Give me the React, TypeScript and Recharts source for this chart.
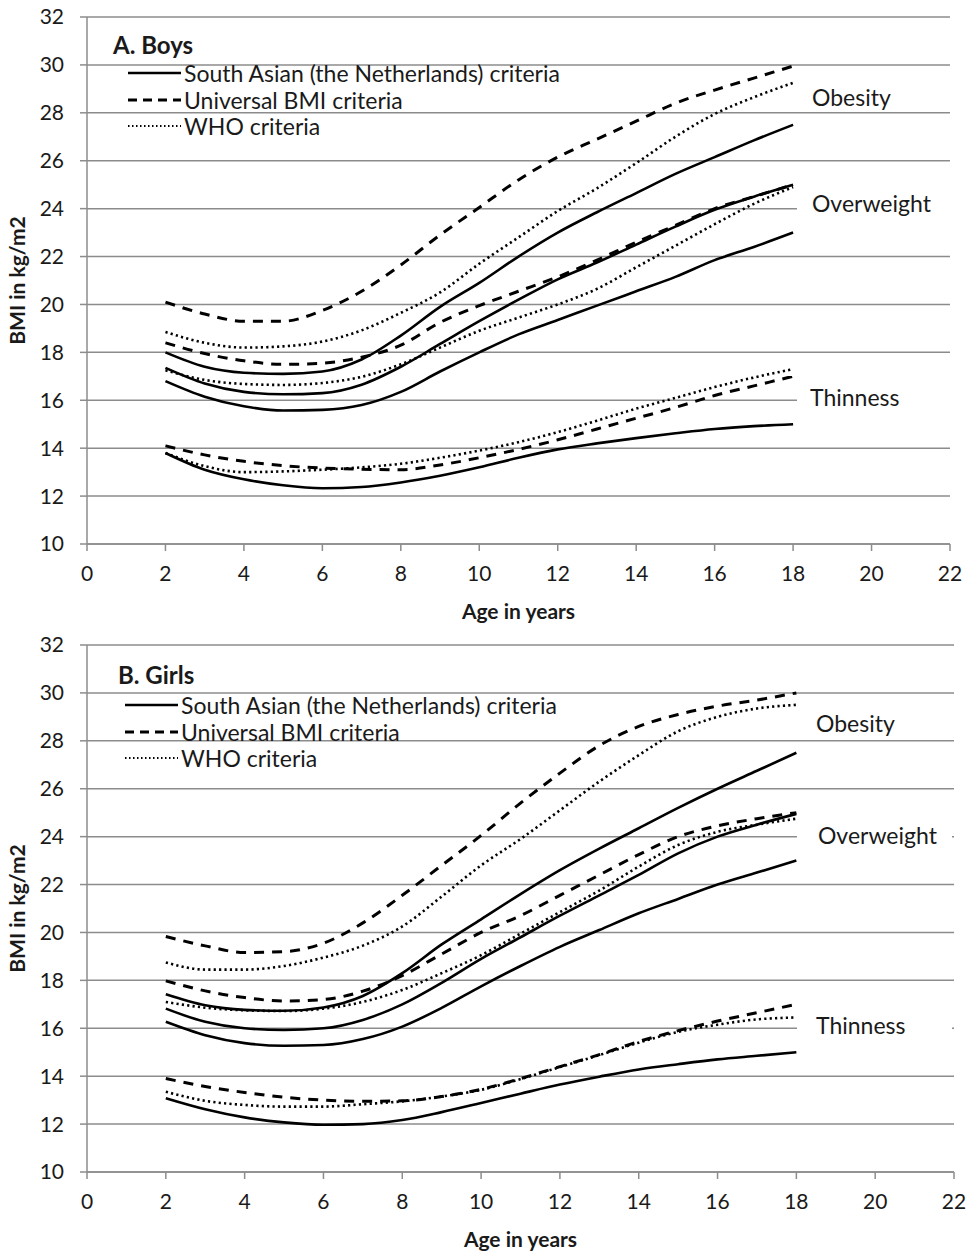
import React from 'react';
import { LineChart, Line, XAxis, YAxis, CartesianGrid, Label } from 'recharts';

const ages = [2, 3, 4, 5, 6, 7, 8, 9, 10, 11, 12, 13, 14, 15, 16, 17, 18];
const xTicks = [0, 2, 4, 6, 8, 10, 12, 14, 16, 18, 20, 22];
const yTicks = [10, 12, 14, 16, 18, 20, 22, 24, 26, 28, 30, 32];

// A. Boys
const boysSaUpper = [18.0, 17.4, 17.15, 17.1, 17.2, 17.7, 18.7, 19.9, 20.9, 22.0, 23.0, 23.85, 24.65, 25.45, 26.15, 26.85, 27.5];
const boysSaMiddle = [17.35, 16.7, 16.35, 16.25, 16.3, 16.65, 17.4, 18.35, 19.3, 20.2, 21.05, 21.75, 22.5, 23.25, 23.95, 24.5, 25.0];
const boysSaLower = [16.8, 16.15, 15.75, 15.57, 15.6, 15.8, 16.35, 17.2, 18.0, 18.75, 19.35, 19.95, 20.55, 21.15, 21.85, 22.4, 23.0];
const boysSaThin = [13.8, 13.1, 12.7, 12.45, 12.33, 12.38, 12.57, 12.85, 13.2, 13.6, 13.95, 14.2, 14.42, 14.62, 14.8, 14.92, 15.0];
const boysUniObese = [20.1, 19.6, 19.3, 19.3, 19.75, 20.55, 21.65, 22.9, 24.05, 25.2, 26.15, 26.9, 27.65, 28.4, 28.95, 29.45, 29.95];
const boysUniOver = [18.4, 17.95, 17.65, 17.5, 17.55, 17.8, 18.3, 19.25, 19.95, 20.55, 21.15, 21.85, 22.6, 23.3, 24.0, 24.5, 25.0];
const boysUniThin = [14.1, 13.72, 13.45, 13.27, 13.17, 13.12, 13.1, 13.3, 13.6, 13.95, 14.35, 14.8, 15.25, 15.7, 16.2, 16.6, 17.0];
const boysWhoObese = [18.85, 18.4, 18.2, 18.25, 18.45, 18.92, 19.65, 20.5, 21.7, 22.8, 23.9, 24.85, 25.9, 27.0, 27.95, 28.65, 29.25];
const boysWhoOver = [17.25, 16.85, 16.68, 16.64, 16.72, 16.98, 17.5, 18.2, 18.9, 19.45, 20.0, 20.65, 21.55, 22.45, 23.35, 24.2, 24.9];
const boysWhoThin = [13.8, 13.25, 13.0, 13.03, 13.1, 13.2, 13.35, 13.6, 13.9, 14.25, 14.67, 15.15, 15.65, 16.1, 16.55, 16.95, 17.3];

// B. Girls
const girlsSaUpper = [17.42, 16.96, 16.77, 16.73, 16.87, 17.35, 18.3, 19.5, 20.55, 21.6, 22.6, 23.5, 24.35, 25.2, 26.0, 26.75, 27.5];
const girlsSaMiddle = [16.82, 16.27, 16.0, 15.93, 16.0, 16.35, 17.0, 17.9, 18.9, 19.8, 20.7, 21.55, 22.4, 23.3, 24.0, 24.5, 24.95];
const girlsSaLower = [16.27, 15.71, 15.38, 15.27, 15.3, 15.55, 16.07, 16.85, 17.75, 18.6, 19.4, 20.1, 20.8, 21.4, 22.0, 22.5, 23.0];
const girlsSaThin = [13.08, 12.62, 12.28, 12.07, 11.97, 12.0, 12.17, 12.5, 12.88, 13.27, 13.65, 13.98, 14.28, 14.5, 14.7, 14.85, 15.0];
const girlsUniObese = [19.83, 19.44, 19.16, 19.2, 19.55, 20.4, 21.55, 22.8, 24.05, 25.4, 26.65, 27.8, 28.6, 29.1, 29.45, 29.7, 30.0];
const girlsUniOver = [17.98, 17.56, 17.28, 17.14, 17.2, 17.55, 18.2, 19.1, 20.0, 20.7, 21.55, 22.4, 23.25, 24.0, 24.45, 24.75, 25.0];
const girlsUniThin = [13.9, 13.57, 13.32, 13.12, 13.0, 12.95, 12.97, 13.15, 13.45, 13.9, 14.4, 14.9, 15.45, 15.9, 16.3, 16.65, 17.0];
const girlsWhoObese = [18.75, 18.45, 18.45, 18.6, 18.95, 19.45, 20.25, 21.5, 22.8, 23.9, 25.1, 26.3, 27.4, 28.4, 29.0, 29.35, 29.5];
const girlsWhoOver = [17.1, 16.86, 16.75, 16.72, 16.82, 17.1, 17.6, 18.3, 19.05, 19.95, 20.85, 21.75, 22.75, 23.65, 24.2, 24.5, 24.75];
const girlsWhoThin = [13.35, 12.97, 12.8, 12.73, 12.73, 12.83, 12.95, 13.15, 13.43, 13.88, 14.38, 14.88, 15.4, 15.85, 16.15, 16.37, 16.45];

const legendItems = [
  { text: 'South Asian (the Netherlands) criteria', dash: undefined, width: 2.5 },
  { text: 'Universal BMI criteria', dash: '9 6', width: 3 },
  { text: 'WHO criteria', dash: '1.5 2.5', width: 1.8 },
];

const FONT = 'Lato, "Open Sans", sans-serif';
const GRID = '#8c8c8c';
const INK = '#1a1a1a';

const SOLID = undefined;
const DASHED = '10 8';
const DOTTED = '2.2 3.2';

const seriesKeys = [
  { key: 'uniObese', dash: DASHED, w: 3 },
  { key: 'whoObese', dash: DOTTED, w: 2.6 },
  { key: 'saUpper', dash: SOLID, w: 2.6 },
  { key: 'uniOver', dash: DASHED, w: 3 },
  { key: 'saMiddle', dash: SOLID, w: 2.6 },
  { key: 'whoOver', dash: DOTTED, w: 2.6 },
  { key: 'saLower', dash: SOLID, w: 2.6 },
  { key: 'uniThin', dash: DASHED, w: 3 },
  { key: 'whoThin', dash: DOTTED, w: 2.6 },
  { key: 'saThin', dash: SOLID, w: 2.6 },
];

function buildRows(s: { [k: string]: number[] }) {
  return ages.map((age, i) => {
    const row: { [k: string]: number } = { age };
    Object.keys(s).forEach((k) => {
      row[k] = s[k][i];
    });
    return row;
  });
}

const boysData = buildRows({
  saUpper: boysSaUpper,
  saMiddle: boysSaMiddle,
  saLower: boysSaLower,
  saThin: boysSaThin,
  uniObese: boysUniObese,
  uniOver: boysUniOver,
  uniThin: boysUniThin,
  whoObese: boysWhoObese,
  whoOver: boysWhoOver,
  whoThin: boysWhoThin,
});

const girlsData = buildRows({
  saUpper: girlsSaUpper,
  saMiddle: girlsSaMiddle,
  saLower: girlsSaLower,
  saThin: girlsSaThin,
  uniObese: girlsUniObese,
  uniOver: girlsUniOver,
  uniThin: girlsUniThin,
  whoObese: girlsWhoObese,
  whoOver: girlsWhoOver,
  whoThin: girlsWhoThin,
});

interface PanelProps {
  title: string;
  data: Array<{ [k: string]: number }>;
  rightMargin: number;
  titlePos: { x: number; y: number };
  legendX: number;
  legendRows: number[];
  sideLabels: Array<{ text: string; x: number; y: number }>;
}

function Panel({ title, data, rightMargin, titlePos, legendX, legendRows, sideLabels }: PanelProps) {
  return (
    <div style={{ position: 'relative', width: 970, height: 628 }}>
      <LineChart width={970} height={628} data={data} margin={{ top: 17, right: rightMargin, left: 0, bottom: 0 }}>
        <CartesianGrid horizontal vertical={false} stroke={GRID} strokeWidth={1.5} />
        <XAxis
          dataKey="age"
          type="number"
          domain={[0, 22]}
          ticks={xTicks}
          height={84}
          stroke={GRID}
          strokeWidth={1.5}
          tickSize={7}
          tickMargin={15}
          tick={{ fill: INK, fontSize: 21, fontFamily: FONT }}
        >
          <Label
            value="Age in years"
            position="insideBottom"
            offset={9}
            style={{ fontWeight: 700, fontSize: 21, fontFamily: FONT, fill: INK }}
          />
        </XAxis>
        <YAxis
          type="number"
          domain={[10, 32]}
          ticks={yTicks}
          width={87}
          stroke={GRID}
          strokeWidth={1.5}
          tickSize={7}
          tickMargin={16}
          tick={{ fill: INK, fontSize: 21, fontFamily: FONT }}
        >
          <Label
            value="BMI in kg/m2"
            angle={-90}
            position="insideLeft"
            offset={18}
            style={{ textAnchor: 'middle', fontWeight: 700, fontSize: 21, fontFamily: FONT, fill: INK }}
          />
        </YAxis>
        {seriesKeys.map((s) => (
          <Line
            key={s.key}
            dataKey={s.key}
            type="monotone"
            stroke="#000"
            strokeWidth={s.w}
            strokeDasharray={s.dash}
            dot={false}
            activeDot={false}
            isAnimationActive={false}
          />
        ))}
      </LineChart>

      <div
        style={{
          position: 'absolute',
          left: titlePos.x,
          top: titlePos.y - 14,
          fontFamily: FONT,
          fontWeight: 700,
          fontSize: 24,
          lineHeight: '28px',
          color: INK,
        }}
      >
        {title}
      </div>

      {legendItems.map((item, i) => (
        <div
          key={item.text}
          style={{
            position: 'absolute',
            left: legendX,
            top: legendRows[i] - 14,
            height: 28,
            display: 'flex',
            alignItems: 'center',
            fontFamily: FONT,
            fontSize: 23,
            color: INK,
            whiteSpace: 'nowrap',
          }}
        >
          <svg width={53} height={10} style={{ marginRight: 3 }}>
            <line x1={0} y1={5} x2={53} y2={5} stroke="#000" strokeWidth={item.width} strokeDasharray={item.dash} />
          </svg>
          <span>{item.text}</span>
        </div>
      ))}

      {sideLabels.map((l) => (
        <div
          key={l.text}
          style={{
            position: 'absolute',
            left: 797,
            top: l.y - 14,
            width: 155,
            height: 28,
            background: '#fff',
            fontFamily: FONT,
            fontSize: 23,
            lineHeight: '28px',
            color: INK,
            paddingLeft: l.x - 797,
            boxSizing: 'border-box',
            whiteSpace: 'nowrap',
          }}
        >
          {l.text}
        </div>
      ))}
    </div>
  );
}

export default function App() {
  return (
    <div style={{ position: 'absolute', left: 0, top: 0, width: 970, height: 1256, background: '#fff' }}>
      <Panel
        title="A. Boys"
        data={boysData}
        rightMargin={20}
        titlePos={{ x: 113, y: 45 }}
        legendX={128}
        legendRows={[73, 99.5, 126]}
        sideLabels={[
          { text: 'Obesity', x: 812, y: 97 },
          { text: 'Overweight', x: 812, y: 203 },
          { text: 'Thinness', x: 810, y: 397 },
        ]}
      />
      <Panel
        title="B. Girls"
        data={girlsData}
        rightMargin={16}
        titlePos={{ x: 118, y: 47 }}
        legendX={125}
        legendRows={[77, 103.5, 130]}
        sideLabels={[
          { text: 'Obesity', x: 816, y: 95 },
          { text: 'Overweight', x: 818, y: 207 },
          { text: 'Thinness', x: 816, y: 397 },
        ]}
      />
    </div>
  );
}
